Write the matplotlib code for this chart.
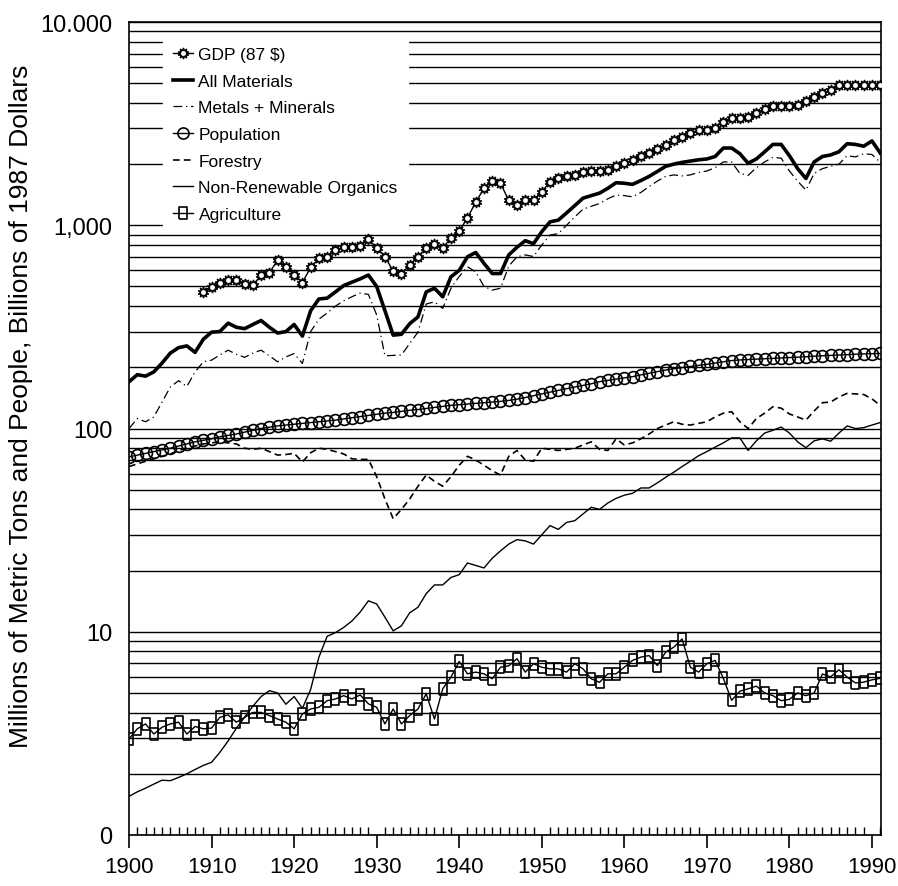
import numpy as np
import matplotlib
matplotlib.use("Agg")
import matplotlib.pyplot as plt
from matplotlib.ticker import FixedLocator, FixedFormatter, LogLocator, NullFormatter, MultipleLocator

# years
years = list(range(1900, 1992))
gdp_years = list(range(1909, 1992))

# GDP, billions of 1987 dollars
gdp = [471, 497, 518, 538, 538, 512, 507, 569, 585, 673,
       625, 569, 523, 620, 688, 702, 755, 782, 782, 791,
       857, 771, 702, 594, 579, 638, 702, 772, 812, 771,
       868, 935, 1088, 1300, 1520, 1650, 1610, 1325, 1260, 1325,
       1330, 1460, 1640, 1700, 1745, 1770, 1830, 1850, 1860, 1880,
       1965, 2020, 2090, 2190, 2270, 2380, 2490, 2620, 2720, 2830,
       2940, 2940, 3020, 3240, 3370, 3390, 3430, 3560, 3730, 3880,
       3880, 3880, 3920, 4100, 4300, 4460, 4640, 4890, 4900, 4900,
       4900, 4900, 4900]

# millions of metric tons
all_materials = [170, 184, 181, 190, 210, 235, 250, 255, 237, 275,
                 298, 300, 330, 315, 310, 325, 340, 315, 295, 300,
                 325, 285, 380, 434, 438, 470, 505, 525, 545, 569,
                 500, 380, 288, 291, 328, 354, 470, 490, 445, 558,
                 600, 700, 735, 650, 579, 579, 715, 780, 840, 812,
                 930, 1040, 1060, 1150, 1250, 1360, 1400, 1440, 1520, 1620,
                 1610, 1590, 1660, 1740, 1840, 1950, 2000, 2040, 2070, 2100,
                 2120, 2180, 2400, 2400, 2250, 2020, 2120, 2300, 2500, 2500,
                 2200, 1900, 1700, 2050, 2180, 2220, 2300, 2520, 2500, 2450,
                 2600, 2270]

metals_minerals = [100, 112, 108, 114, 135, 160, 172, 161, 190, 213,
                   217, 230, 243, 232, 224, 235, 243, 228, 213, 225,
                   234, 209, 300, 345, 370, 400, 425, 445, 464, 457,
                   362, 228, 229, 230, 262, 298, 410, 420, 390, 490,
                   560, 625, 590, 500, 480, 490, 630, 700, 715, 702,
                   800, 895, 910, 1000, 1100, 1200, 1240, 1280, 1350, 1410,
                   1400, 1380, 1450, 1550, 1650, 1740, 1770, 1750, 1770, 1820,
                   1850, 1920, 2050, 2050, 1800, 1760, 1920, 2050, 2160, 2140,
                   1850, 1650, 1490, 1800, 1900, 1950, 2000, 2200, 2170, 2250,
                   2230, 2040]

# millions of people
population = [72.5, 74, 75.5, 77, 78.5, 80, 82, 84, 86, 87.5,
              89, 91, 92.5, 94, 96, 98, 100, 101.5, 103, 104,
              105, 106, 107, 108, 109, 110, 111.5, 113, 114.5, 116,
              117.5, 119, 120, 121.5, 123, 124, 125.5, 127, 128.5, 130,
              131, 132, 133, 134, 135, 136, 137.5, 139.5, 142, 145,
              148, 151, 154, 157, 160, 163, 166, 170, 172.5, 175,
              177.5, 180, 183.5, 187, 190.5, 194, 197, 199.5, 202, 204.5,
              207, 210, 213, 216, 217.5, 218.5, 219.5, 220.5, 221.5, 222.5,
              223.5, 224.5, 225.5, 227, 228, 229, 230, 231, 232, 233,
              233.5, 234]

forestry = [65, 67, 69, 71, 73, 75, 78, 80, 82, 84,
            85, 86, 85, 84, 80, 79, 80, 77, 74, 74.5,
            75.5, 68.5, 76, 80, 79, 77, 75, 71, 70.5, 70.5,
            58, 45, 36, 40, 45, 52, 59, 55, 52, 58,
            66, 73, 70, 66, 62, 59, 73, 78, 70, 69,
            80, 79, 78, 79, 80, 83, 86, 79, 78, 89,
            83, 85, 89, 94, 100, 104, 108, 105, 104, 106,
            108, 114, 119, 121, 108, 100, 112, 119, 128, 126,
            118, 114, 110, 122, 134, 135, 143, 149, 148, 147,
            140, 130]

non_renewable_organics = [1.55, 1.63, 1.70, 1.78, 1.86, 1.85, 1.92, 2.0, 2.1, 2.2,
                          2.28, 2.55, 2.9, 3.35, 3.8, 4.3, 4.8, 5.13, 5.0, 4.4,
                          4.8, 4.2, 5.2, 7.5, 9.5, 9.9, 10.5, 11.3, 12.5, 14.2,
                          13.7, 11.8, 10.1, 10.7, 12.4, 13.2, 15.4, 17.0, 17.0, 18.5,
                          19.1, 21.8, 21.2, 20.6, 23, 25, 27, 28.4, 28.0, 27.0,
                          30, 33.3, 31.9, 34.5, 35.2, 38, 41, 40, 43, 45.3,
                          47, 48, 51, 51, 54, 57.5, 61, 65, 69, 73.5,
                          77, 81, 85, 89.9, 89.9, 78, 87, 95, 98, 101.7,
                          95, 86, 80.5, 87, 89, 86.6, 95, 103, 100, 101,
                          104, 107]

agriculture = [2.97, 3.33, 3.52, 3.14, 3.39, 3.52, 3.59, 3.14, 3.42, 3.33,
               3.36, 3.79, 3.90, 3.59, 3.79, 4.01, 4.01, 3.87, 3.72, 3.59,
               3.33, 3.94, 4.17, 4.25, 4.58, 4.67, 4.85, 4.67, 4.89, 4.42,
               4.25, 3.52, 4.17, 3.52, 3.87, 4.17, 4.95, 3.72, 5.24, 5.98,
               7.14, 6.21, 6.33, 6.21, 5.87, 6.69, 6.8, 7.37, 6.33, 6.96,
               6.69, 6.57, 6.57, 6.33, 6.96, 6.57, 5.87, 5.64, 6.21, 6.21,
               6.69, 7.23, 7.50, 7.64, 6.82, 7.94, 8.40, 9.22, 6.69, 6.33,
               6.96, 7.23, 5.9, 4.6, 5.1, 5.24, 5.4, 5.0, 4.85, 4.58,
               4.65, 5.0, 4.85, 5.0, 6.2, 6.0, 6.5, 5.98, 5.6, 5.65,
               5.8, 5.9]

y_tick_vals = [1, 10, 100, 1000, 10000]
y_tick_labels = ['0', '10', '100', '1,000', '10.000']
x_tick_vals = list(range(1900, 1991, 10))

plt.rcParams['font.family'] = ['Liberation Sans', 'DejaVu Sans']

fig = plt.figure(figsize=(8.98, 8.87), dpi=100)
ax = fig.add_axes([0.1437, 0.0575, 0.8374, 0.9165])

# tall box marker for agriculture
box = [(-0.8, -1), (0.8, -1), (0.8, 1), (-0.8, 1), (-0.8, -1)]

ax.plot(gdp_years, gdp, color='black', lw=1.0, marker=(10, 1, 0), ms=8,
        mfc='white', mec='black', mew=1.0, label='GDP (87 $)', zorder=5)
ax.plot(years, all_materials, color='black', lw=2.6, label='All Materials', zorder=4)
ax.plot(years, metals_minerals, color='black', lw=0.9, linestyle=(0, (7, 3, 1, 3)),
        label='Metals + Minerals', zorder=4)
ax.plot(years, population, color='black', lw=1.0, marker='o', ms=8.5,
        mfc='none', mec='black', mew=1.2, label='Population', zorder=5)
ax.plot(years, forestry, color='black', lw=1.2, linestyle=(0, (4, 2.5)),
        label='Forestry', zorder=4)
ax.plot(years, non_renewable_organics, color='black', lw=1.0,
        label='Non-Renewable Organics', zorder=4)
ax.plot(years, agriculture, color='black', lw=1.0, marker=box, ms=8,
        mfc='none', mec='black', mew=1.2, label='Agriculture', zorder=5)

ax.set_yscale('log')
ax.set_ylim(1, 10000)
ax.set_xlim(1900, 1991.1)

ax.yaxis.set_major_locator(FixedLocator(y_tick_vals))
ax.yaxis.set_major_formatter(FixedFormatter(y_tick_labels))
ax.yaxis.set_minor_locator(LogLocator(base=10, subs=np.arange(2, 10)))
ax.yaxis.set_minor_formatter(NullFormatter())
ax.tick_params(axis='y', which='both', length=0, pad=12, labelsize=17)

ax.xaxis.set_major_locator(FixedLocator(x_tick_vals))
ax.xaxis.set_minor_locator(MultipleLocator(1))
ax.tick_params(axis='x', which='major', direction='out', length=9, width=1.2,
               labelsize=16, pad=6)
ax.tick_params(axis='x', which='minor', direction='in', length=6, width=1.0)

ax.grid(True, axis='y', which='both', color='black', lw=1.0)
for sp in ax.spines.values():
    sp.set_linewidth(1.2)

ax.set_ylabel('Millions of Metric Tons and People, Billions of 1987 Dollars',
              fontsize=19)
ax.yaxis.set_label_coords(-0.128, 0.529)

leg = ax.legend(loc='upper left', bbox_to_anchor=(0.045, 0.982), frameon=True,
                fontsize=12.5, handlelength=1.15, handletextpad=0.3,
                labelspacing=0.66, numpoints=1, borderaxespad=0, borderpad=0.6)
leg.get_frame().set_edgecolor('white')
leg.get_frame().set_facecolor('white')
leg.get_frame().set_alpha(1)
leg.set_zorder(10)
for h in leg.legend_handles:
    h.set_markersize(8)

fig.savefig('out.png', dpi=100)
